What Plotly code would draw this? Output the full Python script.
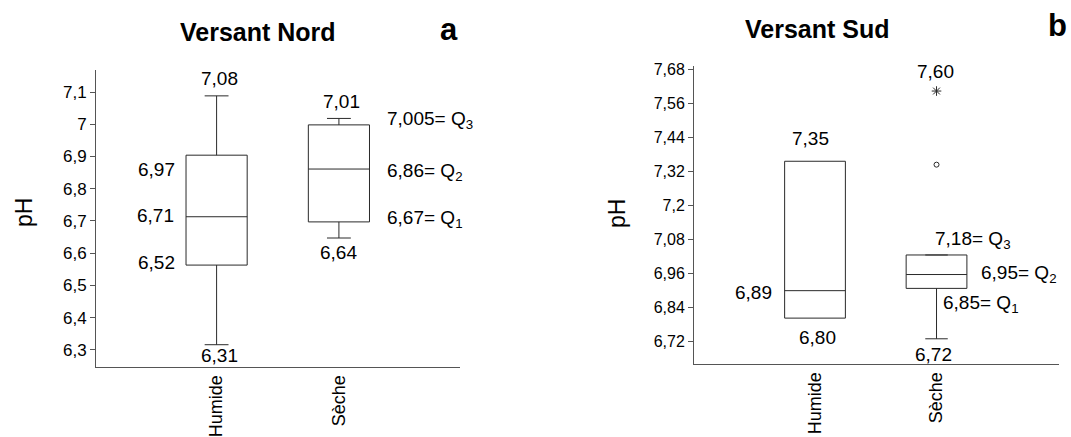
import plotly.graph_objects as go

# ---------------- data ----------------
categories = ["Humide", "Sèche"]

# Versant Nord (panel a)
nord_q1 = [6.563, 6.697]
nord_median = [6.713, 6.861]
nord_q3 = [6.904, 6.998]
nord_lower = [6.316, 6.647]
nord_upper = [7.088, 7.018]

# Versant Sud (panel b)
sud_q1 = [6.803, 6.908]
sud_median = [6.900, 6.957]
sud_q3 = [7.357, 7.026]
sud_lower = [6.803, 6.730]
sud_upper = [7.357, 7.026]
sud_outlier_circle = [7.345]   # Sèche
sud_outlier_star = [7.605]     # Sèche

nord_ticks = [6.3, 6.4, 6.5, 6.6, 6.7, 6.8, 6.9, 7.0, 7.1]
nord_ticktext = ["6,3", "6,4", "6,5", "6,6", "6,7", "6,8", "6,9", "7", "7,1"]
sud_ticks = [6.72, 6.84, 6.96, 7.08, 7.20, 7.32, 7.44, 7.56, 7.68]
sud_ticktext = ["6,72", "6,84", "6,96", "7,08", "7,2", "7,32", "7,44", "7,56", "7,68"]

# value labels (text, x position, y position, anchor)
nord_labels = [
    ("7,08", 0.02, 7.141, "center"),
    ("6,97", -0.495, 6.859, "center"),
    ("6,71", -0.503, 6.716, "center"),
    ("6,52", -0.495, 6.572, "center"),
    ("6,31", 0.02, 6.284, "center"),
    ("7,01", 1.019, 7.070, "center"),
    ("7,005= Q<sub>3</sub>", 1.379, 7.012, "left"),
    ("6,86= Q<sub>2</sub>", 1.379, 6.853, "left"),
    ("6,67= Q<sub>1</sub>", 1.379, 6.706, "left"),
    ("6,64", 0.994, 6.602, "center"),
]
sud_labels = [
    ("7,60", 0.994, 7.674, "center"),
    ("7,35", -0.035, 7.436, "center"),
    ("6,89", -0.505, 6.893, "center"),
    ("6,80", 0.023, 6.736, "center"),
    ("7,18= Q<sub>3</sub>", 0.974, 7.079, "left"),
    ("6,95= Q<sub>2</sub>", 1.352, 6.958, "left"),
    ("6,85= Q<sub>1</sub>", 1.037, 6.852, "left"),
    ("6,72", 0.979, 6.675, "center"),
]

FONT = "Liberation Sans, Arial, sans-serif"
BOXLINE = "#2a2a2a"
AXIS = "#555555"
W, H = 1071, 437

fig = go.Figure()
xpos = list(range(len(categories)))

for i in xpos:
    fig.add_trace(go.Box(
        x=[i], q1=[nord_q1[i]], median=[nord_median[i]], q3=[nord_q3[i]],
        lowerfence=[nord_lower[i]], upperfence=[nord_upper[i]],
        width=0.5, whiskerwidth=0.39, boxpoints=False,
        fillcolor="white", line=dict(color=BOXLINE, width=1),
        xaxis="x", yaxis="y", showlegend=False, name=categories[i]))
    has_whisker = sud_lower[i] < sud_q1[i] or sud_upper[i] > sud_q3[i]
    fig.add_trace(go.Box(
        x=[i], q1=[sud_q1[i]], median=[sud_median[i]], q3=[sud_q3[i]],
        lowerfence=[sud_lower[i]], upperfence=[sud_upper[i]],
        width=0.5, whiskerwidth=0.37 if has_whisker else 0, boxpoints=False,
        fillcolor="white", line=dict(color=BOXLINE, width=1),
        xaxis="x2", yaxis="y2", showlegend=False, name=categories[i]))

fig.add_trace(go.Scatter(
    x=[1] * len(sud_outlier_circle), y=sud_outlier_circle, mode="markers",
    marker=dict(symbol="circle-open", size=5, color=BOXLINE, line=dict(width=1)),
    xaxis="x2", yaxis="y2", showlegend=False))
fig.add_trace(go.Scatter(
    x=[1] * len(sud_outlier_star), y=sud_outlier_star, mode="markers",
    marker=dict(symbol="asterisk-open", size=8, color=BOXLINE, line=dict(width=1, color=BOXLINE)),
    xaxis="x2", yaxis="y2", showlegend=False))

annotations = []
for txt, x, y, anc in nord_labels:
    annotations.append(dict(text=txt, x=x, y=y, xref="x", yref="y", xanchor=anc,
                            yanchor="middle", showarrow=False,
                            font=dict(family=FONT, size=19, color="black")))
for txt, x, y, anc in sud_labels:
    annotations.append(dict(text=txt, x=x, y=y, xref="x2", yref="y2", xanchor=anc,
                            yanchor="middle", showarrow=False,
                            font=dict(family=FONT, size=19, color="black")))

def paper(px, py):
    return px / W, 1 - py / H

for txt, px, py, size, bold, angle in [
    ("Versant Nord", 258, 28, 25, True, 0),
    ("a", 449, 26, 31, True, 0),
    ("Versant Sud", 817, 25, 25, True, 0),
    ("b", 1057, 22, 31, True, 0),
    ("pH", 24, 212, 23, False, -90),
    ("pH", 617, 213, 23, False, -90),
]:
    xx, yy = paper(px, py)
    annotations.append(dict(text=f"<b>{txt}</b>" if bold else txt, x=xx, y=yy,
                            xref="paper", yref="paper", xanchor="center",
                            yanchor="middle", showarrow=False, textangle=angle,
                            font=dict(family=FONT, size=size, color="black")))

xcommon = dict(tickvals=xpos, ticktext=categories, tickangle=-90, ticks="",
               showline=True, linecolor=AXIS, linewidth=1, showgrid=False,
               zeroline=False, tickfont=dict(family=FONT, size=18, color="black"))
ycommon = dict(ticks="outside", ticklen=5, tickcolor=AXIS, tickwidth=1,
               showline=True, linecolor=AXIS, linewidth=1, showgrid=False,
               zeroline=False)

fig.update_layout(
    width=W, height=H,
    margin=dict(l=0, r=0, t=0, b=0),
    paper_bgcolor="white", plot_bgcolor="white",
    xaxis=dict(domain=[96 / W, 460 / W], range=[-0.986, 1.99], anchor="y", **xcommon),
    yaxis=dict(domain=[1 - 368 / H, 1 - 67 / H], range=[6.247, 7.168], anchor="x",
               tickvals=nord_ticks, ticktext=nord_ticktext,
               tickfont=dict(family=FONT, size=17, color="black"), **ycommon),
    xaxis2=dict(domain=[694 / W, 1059 / W], range=[-0.996, 2.008], anchor="y2", **xcommon),
    yaxis2=dict(domain=[1 - 365 / H, 1 - 62.7 / H], range=[6.641, 7.694], anchor="x2",
                tickvals=sud_ticks, ticktext=sud_ticktext,
                tickfont=dict(family=FONT, size=16, color="black"), **ycommon),
    annotations=annotations,
    font=dict(family=FONT),
)

fig.write_html("out.html", config={"displayModeBar": False})
